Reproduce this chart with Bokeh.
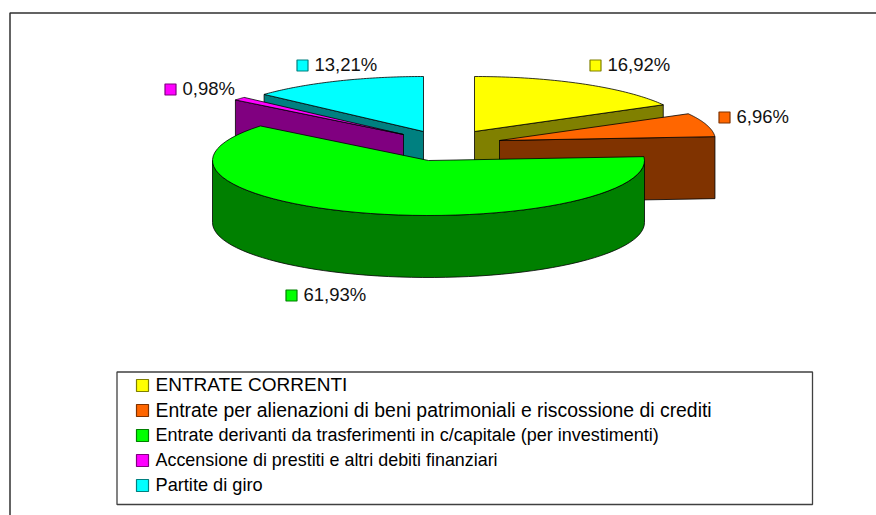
import numpy as np
from bokeh.plotting import figure
from bokeh.models import Range1d
from bokeh.core.properties import value
from bokeh.embed import file_html
from bokeh.resources import INLINE

# --- data ---
categories = [
    "ENTRATE CORRENTI",
    "Entrate per alienazioni di beni patrimoniali e riscossione di crediti",
    "Entrate derivanti da trasferimenti in c/capitale (per investimenti)",
    "Accensione di prestiti e altri debiti finanziari",
    "Partite di giro",
]
shares = [16.92, 6.96, 61.93, 0.98, 13.21]
share_labels = ["16,92%", "6,96%", "61,93%", "0,98%", "13,21%"]

# --- styles and layout (page pixels) ---
top_colors = ["#ffff00", "#ff6600", "#00ff00", "#ff00ff", "#00ffff"]
side_colors = ["#808000", "#803300", "#008000", "#800080", "#008080"]
apex_x = [474, 499, 428, 403, 423]
apex_y = [131, 140, 160, 134, 131]
label_x = [595, 724, 291, 170, 302]
label_y = [65, 117, 295, 89, 65]
legend_sizes = ["19px", "19.4px", "18px", "17.9px", "18.2px"]
RX, RY, DEPTH = 216, 55, 62
FONT = "Liberation Sans"

W, H = 876, 515
p = figure(width=W, height=H, output_backend="svg", toolbar_location=None,
           x_range=Range1d(0, W), y_range=Range1d(H, 0),
           min_border=0, outline_line_color=None)
p.xaxis.visible = False
p.yaxis.visible = False
p.grid.visible = False

# frame of the sheet
p.line([9.5, 9.5, 876], [515, 12.5, 12.5], line_color="#303030", line_width=1.5)

edges = np.radians(np.cumsum([0] + shares) * 3.6)


def rim(i, a0, a1, n=60):
    t = np.linspace(a0, a1, n)
    return apex_x[i] + RX * np.sin(t), apex_y[i] - RY * np.cos(t)


def cut_face(i, a):
    x = apex_x[i] + RX * np.sin(a)
    y = apex_y[i] - RY * np.cos(a)
    return ([apex_x[i], x, x, apex_x[i]],
            [apex_y[i], y, y + DEPTH, apex_y[i] + DEPTH])


def top_face(i):
    x, y = rim(i, edges[i], edges[i + 1])
    p.patch(np.r_[apex_x[i], x], np.r_[apex_y[i], y], fill_color=top_colors[i],
            line_color="black", line_width=0.8)


def side(i, a):
    x, y = cut_face(i, a)
    p.patch(x, y, fill_color=side_colors[i], line_color="black", line_width=0.8)


# back to front
side(0, edges[1]); top_face(0)
side(1, edges[2]); top_face(1)
side(4, edges[4]); top_face(4)
side(3, edges[3]); top_face(3)

# green slice: outer wall, then top
xw, yw = rim(2, np.pi / 2, 3 * np.pi / 2)
p.patch(np.r_[xw, xw[::-1]], np.r_[yw, yw[::-1] + DEPTH],
        fill_color=side_colors[2], line_color="black", line_width=0.8)
top_face(2)

# data labels
p.scatter(label_x, label_y, marker="square", size=11, fill_color=top_colors,
          line_color=side_colors, line_width=1.2)
p.text([x + 12 for x in label_x], [y - 1 for y in label_y], text=share_labels,
       text_font=value(FONT), text_font_size="18.5px", text_color="#111111",
       text_baseline="middle", text_align="left")

# legend
p.quad(left=[116.5], right=[812], top=[371.5], bottom=[504], fill_color="white",
       line_color="#404040", line_width=1.3)
rows = [385 + 25 * i for i in range(len(categories))]
p.scatter([142] * len(rows), rows, marker="square", size=12, fill_color=top_colors,
          line_color=side_colors, line_width=1.2)
p.text([155] * len(rows), [r - 1 for r in rows], text=categories,
       text_font=value(FONT), text_font_size=legend_sizes, text_color="black",
       text_baseline="middle", text_align="left")

open("out.html", "w").write(file_html(p, INLINE))
